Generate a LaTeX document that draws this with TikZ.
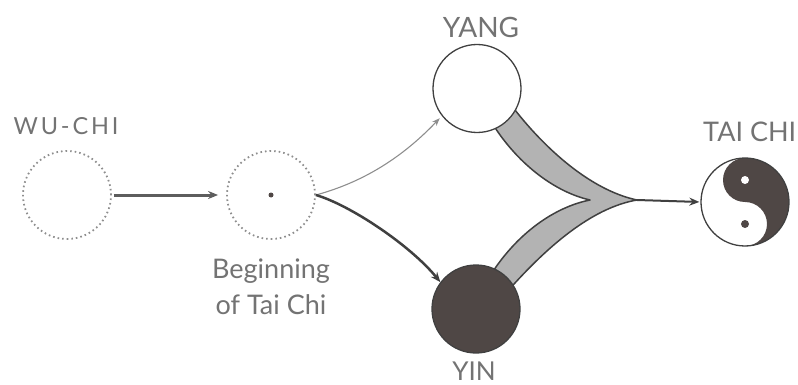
\documentclass[tikz,border=0pt]{standalone}
\usepackage{fontspec}
\setmainfont{Lato}
\usetikzlibrary{arrows.meta}
\definecolor{txt}{HTML}{737373}
\definecolor{dotc}{HTML}{8E8E8E}
\definecolor{darkc}{HTML}{4F4745}
\definecolor{linec}{HTML}{404040}
\definecolor{bandc}{HTML}{B3B3B3}
\tikzset{
  lbl/.style={inner sep=0pt, text=txt, anchor=base},
  dotcirc/.style={circle, minimum size=88pt, inner sep=0pt, draw=dotc, line width=1.8pt, dash pattern=on 1.6pt off 3pt},
  solidcirc/.style={circle, minimum size=88pt, inner sep=0pt, draw=linec, line width=1.3pt},
  arr/.style={-{Stealth[length=10pt,width=8pt]}},
}
\begin{document}
\begin{tikzpicture}[x=1pt,y=-1pt]
\useasboundingbox (0,0) rectangle (798,385);
% gray bands (drawn under the circles)
\coordinate (tip) at (637,200);
\coordinate (cusp) at (590,200);
\node[solidcirc, draw=none] (yangp) at (477,88.5) {};
\node[solidcirc, draw=none] (yinp) at (476,309) {};
\filldraw[fill=bandc, draw=linec, line width=1.5pt, line join=round]
  (yangp.-30) .. controls (545,148) and (590,190) .. (tip)
  .. controls (590,208) and (545,250) .. (yinp.33)
  -- (yinp.center) -- (yinp.65)
  .. controls (520,232) and (555,207) .. (cusp)
  .. controls (555,192) and (520,165) .. (yangp.-65)
  -- (yangp.center) -- cycle;
% circles
\node[dotcirc] (wu) at (67,195) {};
\node[dotcirc] (beg) at (271,195) {};
\fill[darkc] (beg.center) circle (2.5pt);
\node[solidcirc, fill=white] (yang) at (477,88.5) {};
\node[solidcirc, fill=darkc] (yin) at (476,309) {};
\node[solidcirc, draw=none] (tc) at (745,202) {};
\begin{scope}[shift={(745,202)}, yscale=-1]
  \fill[darkc] (0,44) arc[start angle=90, end angle=-90, radius=44]
    arc[start angle=-90, end angle=90, radius=22]
    arc[start angle=-90, end angle=-270, radius=22] -- cycle;
  \fill[white] (0,22) circle (4);
  \fill[darkc] (0,-22) circle (4);
\end{scope}
\draw[linec, line width=1.3pt] (tc.center) circle (44);
% labels
\node[lbl, font=\fontsize{23.5}{26}\selectfont\addfontfeature{LetterSpace=12}] (lwu) at (66,135) {WU-CHI};
\node[lbl, font=\fontsize{27}{32}\selectfont] (lbeg1) at (271,278) {Beginning};
\node[lbl, font=\fontsize{27}{32}\selectfont] (lbeg2) at (271,314) {of Tai Chi};
\node[lbl, font=\fontsize{28}{32}\selectfont] (lyang) at (481,38) {YANG};
\node[lbl, font=\fontsize{26}{30}\selectfont] (lyin) at (474,380) {YIN};
\node[lbl, anchor=base west, font=\fontsize{27}{32}\selectfont] (ltc) at (703,142) {TAI CHI};
% connectors
\draw[arr, line width=3pt, color=linec!85, shorten <=2pt, shorten >=8pt] (wu.east) -- (beg.west);
\draw[-{Stealth[length=8pt,width=6pt]}, line width=1.1pt, color=dotc, shorten >=3pt]
  (beg.east) .. controls (360,183) and (400,160) .. (yang.218);
\draw[arr, line width=2.5pt, color=linec]
  (beg.east) .. controls (350,205) and (410,245) .. (yin.143);
\draw[arr, line width=2pt, color=linec, shorten >=1pt] (tip) -- (tc.west);
\end{tikzpicture}
\end{document}
